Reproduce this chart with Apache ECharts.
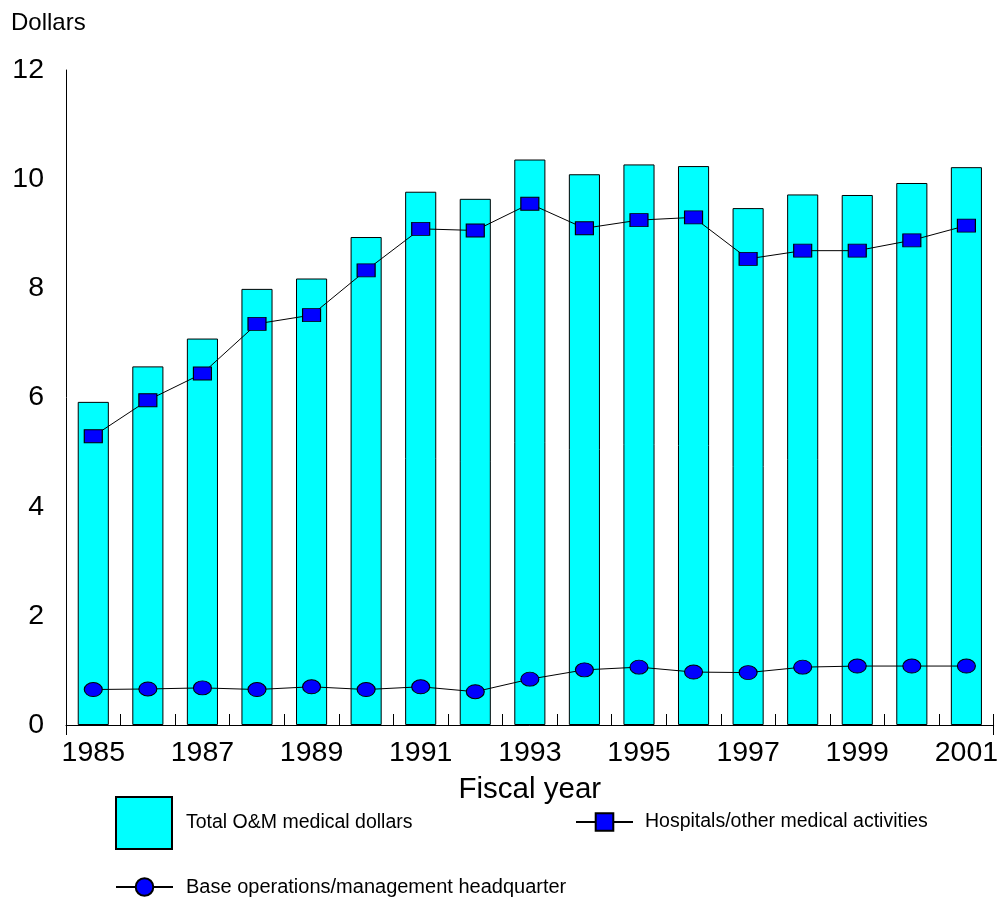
<!DOCTYPE html>
<html>
<head>
<meta charset="utf-8">
<script src="https://cdn.jsdelivr.net/npm/echarts@6/dist/echarts.min.js"></script>
<style>html,body{margin:0;padding:0;background:#fff;}#c{width:1001px;height:899px;}</style>
</head>
<body>
<div id="c"></div>
<script>
const years = ['1985','1986','1987','1988','1989','1990','1991','1992','1993','1994','1995','1996','1997','1998','1999','2000','2001'];
const totalOM = [5.92,6.57,7.08,7.99,8.18,8.94,9.77,9.64,10.36,10.09,10.27,10.24,9.47,9.72,9.71,9.93,10.22];
const hospitals = [5.29,5.95,6.44,7.35,7.51,8.33,9.09,9.06,9.55,9.10,9.25,9.30,8.54,8.69,8.69,8.88,9.15];
const baseOps = [0.65,0.66,0.68,0.65,0.70,0.65,0.70,0.61,0.84,1.01,1.06,0.97,0.96,1.06,1.08,1.08,1.08];
const yTicks = [0,2,4,6,8,10,12];

const FONT = '"Liberation Sans", Arial, sans-serif';
const ellipse = 'path://M0,50 A50,50 0 1,0 100,50 A50,50 0 1,0 0,50 Z';

const chart = echarts.init(document.getElementById('c'), null, {renderer:'canvas'});
chart.setOption({
  animation: false,
  backgroundColor: '#fff',
  textStyle: {fontFamily: FONT, color: '#000'},
  title: {text: 'Dollars', left: 6, top: 6, textStyle: {fontFamily: FONT, fontSize: 24, fontWeight: 'normal', color: '#000'}},
  grid: {left: 66, right: 4, top: 70, bottom: 174, containLabel: false},
  xAxis: [{
    type: 'category', data: years, boundaryGap: true,
    name: 'Fiscal year', nameLocation: 'middle', nameGap: 50,
    nameTextStyle: {fontFamily: FONT, fontSize: 29.5, color: '#000'},
    axisLine: {lineStyle: {color: '#000', width: 1}},
    axisTick: {show: true, inside: true, length: 11, interval: 0, alignWithLabel: false, lineStyle: {color: '#000'}},
    axisLabel: {interval: 1, fontFamily: FONT, fontSize: 28.5, color: '#000', margin: 14},
    splitLine: {show: false}
  }, {
    type: 'value', min: 0, max: 17, interval: 17, position: 'bottom',
    axisLine: {show: false}, axisLabel: {show: false}, splitLine: {show: false},
    axisTick: {show: true, inside: false, length: 10, lineStyle: {color: '#000'}}
  }],
  yAxis: {
    type: 'value', min: yTicks[0], max: yTicks[yTicks.length-1], interval: 2,
    axisLine: {show: true, lineStyle: {color: '#000', width: 1}},
    axisTick: {show: false},
    splitLine: {show: false},
    axisLabel: {fontFamily: FONT, fontSize: 28.5, color: '#000', margin: 22}
  },
  legend: [{
    data: [{name: 'Total O&M medical dollars', icon: 'rect'}], left: 115, top: 796, orient: 'horizontal',
    itemWidth: 56, itemHeight: 52, padding: 0,
    textStyle: {fontFamily: FONT, fontSize: 19.5, color: '#000', padding: [0,0,0,9]}
  }, {
    data: ['Hospitals/other medical activities'], left: 575, top: 812,
    itemWidth: 57, itemHeight: 22, padding: 0,
    textStyle: {fontFamily: FONT, fontSize: 19.5, color: '#000', padding: [0,0,0,7]}
  }, {
    data: ['Base operations/management headquarter'], left: 115, top: 877,
    itemWidth: 57, itemHeight: 22, padding: 0,
    textStyle: {fontFamily: FONT, fontSize: 20, color: '#000', padding: [0,0,0,8]}
  }],
  series: [{
    name: 'Total O&M medical dollars', type: 'bar', data: totalOM, barWidth: '57%',
    itemStyle: {color: '#00FFFF', borderColor: '#000', borderWidth: 1}
  }, {
    name: 'Hospitals/other medical activities', type: 'line', data: hospitals,
    symbol: 'rect', symbolSize: [18, 13],
    lineStyle: {color: '#000', width: 1},
    itemStyle: {color: '#0000FF', borderColor: '#000', borderWidth: 1}
  }, {
    name: 'Base operations/management headquarter', type: 'line', data: baseOps,
    symbol: ellipse, symbolSize: [18, 14],
    lineStyle: {color: '#000', width: 1},
    itemStyle: {color: '#0000FF', borderColor: '#000', borderWidth: 1}
  }]
});
</script>
</body>
</html>
